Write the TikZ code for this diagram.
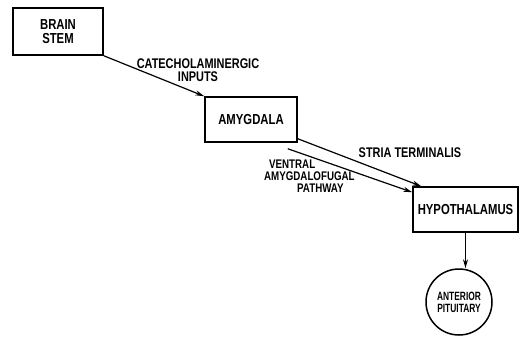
\documentclass[tikz,border=0pt]{standalone}
\usepackage{fontspec}
\newfontfamily\diagfont[FakeStretch=0.78]{Liberation Sans}
\newfontfamily\circfont[FakeStretch=0.7]{Liberation Sans}
\usetikzlibrary{arrows.meta}
\begin{document}
\begin{tikzpicture}[x=1pt,y=-1pt,
    box/.style={draw,line width=1.5pt,inner sep=0pt,font=\diagfont\bfseries\fontsize{14.5}{14}\selectfont,align=center},
    lbl/.style={inner sep=0pt,font=\diagfont\bfseries\fontsize{14}{12.5}\selectfont},
    conn/.style={line width=1.2pt,-{Stealth[length=9pt,width=5pt]}}]
      \useasboundingbox (0,0) rectangle (527,337);
      \node[box,minimum width=90pt,minimum height=47pt] (brainstem) at (58,31.5) {BRAIN\\STEM};
      \node[box,minimum width=92pt,minimum height=45pt] (amygdala) at (251,119.5) {AMYGDALA};
      \node[box,minimum width=105pt,minimum height=45pt] (hypothal) at (465.5,209.5) {HYPOTHALAMUS};
      \node[box,circle,minimum size=66pt,font=\circfont\bfseries\fontsize{12}{12}\selectfont] (pituitary) at (459,302) {ANTERIOR\\PITUITARY};
      \draw[conn] (brainstem.south east) -- (amygdala.north west);
      \draw[conn] ([yshift=4pt]amygdala.south east) -- ([xshift=9pt]hypothal.north west);
      \draw[conn] ([xshift=-10pt,yshift=-6pt]amygdala.south east) -- ([yshift=-6pt]hypothal.north west);
      \draw[conn] (hypothal.south) -- (hypothal.south |- pituitary.north);
      \node[lbl,align=center] (catlabel) at (198,70) {CATECHOLAMINERGIC\\INPUTS};
      \node[lbl] (strialabel) at (410,153) {STRIA TERMINALIS};
      \node[lbl,align=left,anchor=north west,font=\diagfont\bfseries\fontsize{12.5}{12}\selectfont] (ventlabel) at (264,160) {\hspace{5pt}VENTRAL\\AMYGDALOFUGAL\\\hspace{33pt}PATHWAY};
    \end{tikzpicture}
\end{document}
